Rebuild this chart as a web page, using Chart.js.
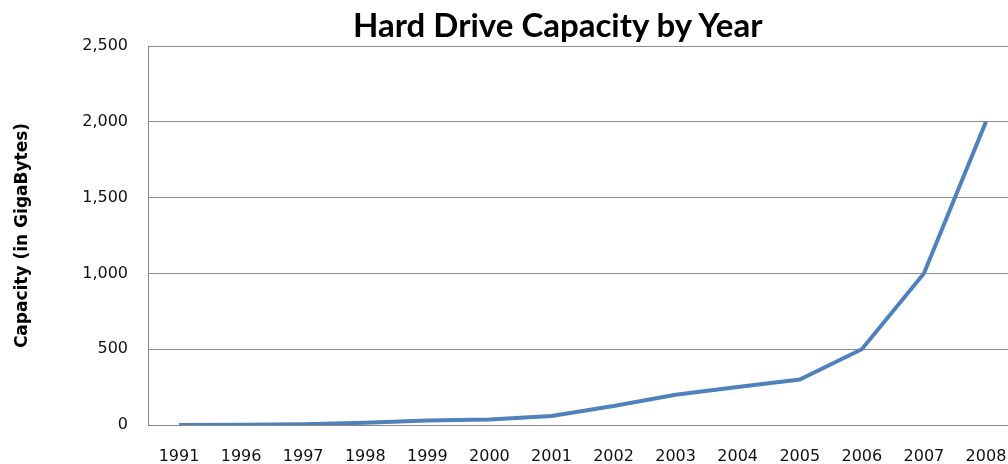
<!DOCTYPE html>
<html>
<head>
<meta charset="utf-8">
<script src="https://cdn.jsdelivr.net/npm/chart.js@4/dist/chart.umd.min.js"></script>
<style>
	html, body { margin: 0; padding: 0; background: #fff; overflow: hidden; }
	#wrap { position: relative; width: 1017px; height: 464px; }
	#chartTitle {
		position: absolute; left: 353px; width: 400px; top: 4px;
		text-align: center; white-space: nowrap;
		font: bold 33px Lato, 'Open Sans', sans-serif; color: #000;
	}
</style>
</head>
<body>
<div id="wrap">
	<div id="chartTitle">Hard Drive Capacity by Year</div>
	<canvas id="capacityChart" width="1017" height="464"></canvas>
</div>
<script type="text/javascript">
	// data
	var years = ["1991", "1996", "1997", "1998", "1999", "2000", "2001", "2002", "2003", "2004", "2005", "2006", "2007", "2008"];
	var capacityGB = [0.1, 2, 5, 15, 30, 37, 60, 125, 200, 250, 300, 500, 1000, 2000];
	var yTicks = [0, 500, 1000, 1500, 2000, 2500];

	var tickFont = { family: "'DejaVu Sans', Verdana, sans-serif", size: 16 };

	var ctx = document.getElementById("capacityChart").getContext("2d");
	var chart = new Chart(ctx, {
		type: 'line',
		data: {
			labels: years,
			datasets: [{
				label: 'Capacity',
				data: capacityGB,
				borderColor: '#4F81BD',
				borderWidth: 4,
				pointRadius: 0,
				tension: 0,
				fill: false
			}]
		},
		options: {
			responsive: false,
			animation: false,
			layout: { padding: { left: 0, right: 0, top: 46, bottom: 0 } },
			plugins: {
				legend: { display: false },
				tooltip: { enabled: false },
				title: { display: false }
			},
			scales: {
				x: {
					offset: true,
					grid: { display: false, drawTicks: false },
					border: { display: true, color: '#888', width: 1 },
					ticks: { color: '#111', font: tickFont, padding: 22, maxRotation: 0, autoSkip: false },
					afterFit: function(scale) {
						scale.height = 39;
						// plot runs to the right edge, no room kept for labels
						scale.paddingLeft = 0;
						scale.paddingRight = 0;
					}
				},
				y: {
					min: 0,
					max: 2500,
					afterBuildTicks: function(scale) {
						scale.ticks = yTicks.map(function(v) { return { value: v }; });
					},
					grid: { color: '#8c8c8c', lineWidth: 1, drawTicks: false },
					border: { display: true, color: '#888', width: 1 },
					ticks: {
						color: '#111',
						font: tickFont,
						padding: 20,
						callback: function(v) { return v.toLocaleString('en-US'); }
					},
					title: {
						display: true,
						text: 'Capacity (in GigaBytes)',
						color: '#000',
						font: { family: "'DejaVu Sans', Verdana, sans-serif", size: 17, weight: 'bold' },
						padding: { top: 12, bottom: 0 }
					},
					afterFit: function(scale) {
						scale.width = 148;
						scale.paddingTop = 0;
						scale.paddingBottom = 0;
					}
				}
			}
		}
	});
</script>
</body>
</html>
